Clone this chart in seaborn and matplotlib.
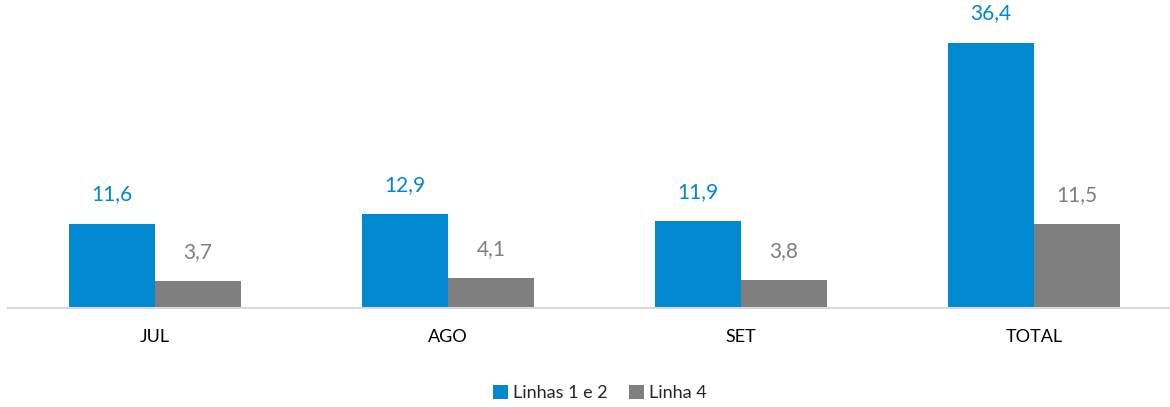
import matplotlib
matplotlib.use("Agg")
import matplotlib.pyplot as plt
import seaborn as sns
import pandas as pd
from matplotlib.patches import Patch

categories = ["JUL", "AGO", "SET", "TOTAL"]
series_names = ["Linhas 1 e 2", "Linha 4"]
linhas_1_2 = [11.6, 12.9, 11.9, 36.4]
linha_4 = [3.7, 4.1, 3.8, 11.5]

colors = ["#0088D1", "#7F7F7F"]

df = pd.DataFrame({
    "cat": categories * 2,
    "serie": [series_names[0]] * 4 + [series_names[1]] * 4,
    "val": linhas_1_2 + linha_4,
})

sns.set_theme(style="white")
plt.rcParams['font.family'] = ['Lato', 'DejaVu Sans']

W, H = 1170, 407
fig = plt.figure(figsize=(W / 100, H / 100), dpi=100)
left_px, right_px = 8, 1170
base_px = 308
ax = fig.add_axes([left_px / W, (H - base_px) / H, (right_px - left_px) / W, base_px / H])

sns.barplot(data=df, x="cat", y="val", hue="serie", palette=colors,
            width=0.587, gap=0, dodge=True, ax=ax, legend=False,
            saturation=1, edgecolor="none", linewidth=0)

px_per_unit = 293.2
ax.set_xlim(-0.5, -0.5 + (right_px - left_px) / px_per_unit)
ax.set_ylim(0, base_px / 7.28)

for cont, col in zip(ax.containers, colors):
    labels = [f"{v:.1f}".replace(".", ",") for v in cont.datavalues]
    ax.bar_label(cont, labels=labels, padding=14, color=col, fontsize=15)

for s in ["top", "right", "left"]:
    ax.spines[s].set_visible(False)
ax.spines["bottom"].set_color("#D9D9D9")
ax.spines["bottom"].set_linewidth(1.5)
ax.set_yticks([])
ax.set_xlabel("")
ax.set_ylabel("")
ax.tick_params(axis="x", length=0, pad=15, labelsize=13, labelcolor="#000000")

handles = [Patch(facecolor=c, edgecolor="none") for c in colors]
fig.legend(handles, series_names, loc="center", bbox_to_anchor=(600 / W, 1 - 393 / H),
           ncol=2, frameon=False, fontsize=13, handlelength=0.8, handleheight=0.8,
           handletextpad=0.3, columnspacing=1.2)

fig.savefig("out.png", dpi=100)
